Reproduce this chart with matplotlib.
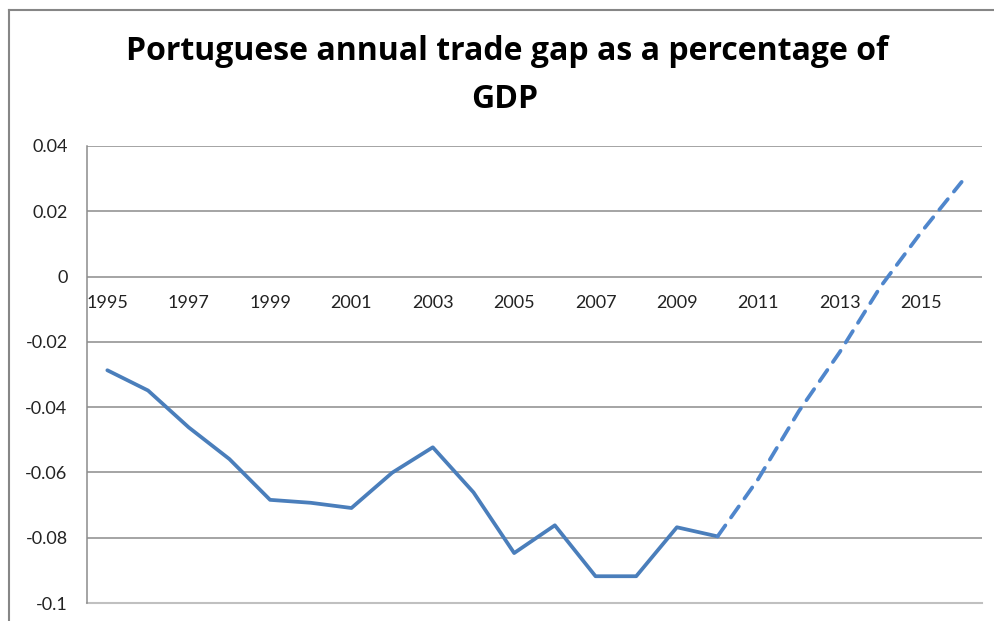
import matplotlib.pyplot as plt
from matplotlib.lines import Line2D

years = list(range(1995, 2017))
actual_years = list(range(1995, 2011))
actual_gap = [-0.0287, -0.0349, -0.0462, -0.0559, -0.0684, -0.0693, -0.0709, -0.0601,
              -0.0523, -0.0661, -0.0847, -0.0762, -0.0918, -0.0918, -0.0768, -0.0796]
forecast_years = list(range(2010, 2017))
forecast_gap = [-0.0796, -0.0620, -0.0412, -0.0232, -0.0032, 0.0135, 0.0290]
y_ticks = [-0.1, -0.08, -0.06, -0.04, -0.02, 0, 0.02, 0.04]
y_labels = ['-0.1', '-0.08', '-0.06', '-0.04', '-0.02', '0', '0.02', '0.04']
x_ticks = years[::2]

plt.rcParams['font.family'] = ['Lato', 'DejaVu Sans']

blue = '#4a7ebb'
grid = '#8c8c8c'

fig = plt.figure(figsize=(9.95, 6.21), dpi=100)
ax = fig.add_axes([87 / 995, 18 / 621, 895 / 995, 457 / 621])

ax.plot(actual_years, actual_gap, color=blue, lw=2.7, solid_capstyle='round',
        solid_joinstyle='round')
ax.plot(forecast_years, forecast_gap, color='#4f86cc', lw=2.7, dashes=(3.6, 2.6),
        dash_capstyle='round')

ax.set_xlim(1994.5, 2016.5)
ax.set_ylim(-0.1, 0.04)
ax.set_yticks(y_ticks)
ax.set_yticklabels(y_labels)
ax.set_xticks(x_ticks)
ax.set_xticklabels([str(y) for y in x_ticks])

ax.yaxis.grid(True, color=grid, lw=1.1)
ax.set_axisbelow(True)
for side in ['top', 'right']:
    ax.spines[side].set_visible(False)
ax.spines['left'].set_color(grid)
ax.spines['left'].set_linewidth(1.1)
# year labels sit just under the zero line
ax.spines['bottom'].set_position(('data', 0))
ax.spines['bottom'].set_visible(False)
ax.axhline(-0.1, color='#c0c0c0', lw=1.5, clip_on=False)

ax.tick_params(axis='both', length=0, labelsize=13, labelcolor='#222222')
ax.tick_params(axis='x', pad=13)
ax.tick_params(axis='y', pad=14)

title_font = dict(ha='center', va='baseline', fontsize=23, fontweight='bold',
                  family=['Open Sans', 'DejaVu Sans'])
fig.text(507 / 995, 1 - 60 / 621, 'Portuguese annual trade gap as a percentage of',
         **title_font)
fig.text(505 / 995, 1 - 108 / 621, 'GDP', **title_font)

# chart area frame (top and left edges)
fig.add_artist(Line2D([9 / 995, 1.0], [1 - 10 / 621, 1 - 10 / 621],
                      transform=fig.transFigure, color='#868686', lw=1.5))
fig.add_artist(Line2D([9 / 995, 9 / 995], [0, 1 - 10 / 621],
                      transform=fig.transFigure, color='#868686', lw=1.5))

fig.savefig('out.png', dpi=100)
